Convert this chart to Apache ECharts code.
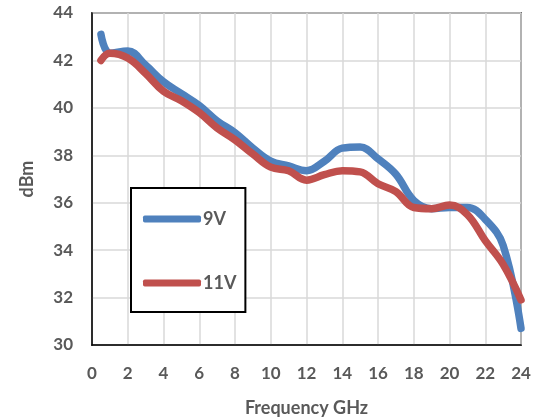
<!DOCTYPE html>
<html>
<head>
<meta charset="utf-8">
<script src="https://cdn.jsdelivr.net/npm/echarts@6/dist/echarts.min.js"></script>
<style>
  html, body { margin: 0; padding: 0; background: #fff; }
  #chart { width: 547px; height: 420px; }
</style>
</head>
<body>
<div id="chart"></div>
<script>
var freq = [0.5, 1, 2, 3, 4, 5, 6, 7, 8, 9, 10, 11, 12, 13, 14, 15, 16, 17, 18, 19, 20, 21, 22, 23, 24];
var v9 = [43.1, 42.3, 42.4, 41.8, 41.1, 40.6, 40.1, 39.45, 38.95, 38.3, 37.75, 37.55, 37.35, 37.75, 38.3, 38.35, 37.85, 37.2, 36.1, 35.75, 35.8, 35.8, 35.3, 34.2, 30.7];
var v11 = [42.0, 42.3, 42.1, 41.45, 40.7, 40.3, 39.8, 39.15, 38.65, 38.05, 37.5, 37.35, 36.95, 37.18, 37.35, 37.3, 36.8, 36.47, 35.8, 35.75, 35.9, 35.5, 34.4, 33.4, 31.9];
var names = ['9V', '11V'];
var colors = ['#4F81BD', '#C0504D'];

function pairs(xs, ys) {
  return xs.map(function (x, i) { return [x, ys[i]]; });
}

var myChart = echarts.init(document.getElementById('chart'));
var tickFont = { fontFamily: 'Lato', fontWeight: 'bold', fontSize: 17, color: '#595959' };
var titleFont = { fontFamily: 'Lato', fontWeight: 'bold', fontSize: 18, color: '#595959' };

var option = {
  animation: false,
  grid: {
    left: 92, right: 26, top: 13, bottom: 75,
    outerBoundsMode: 'none',
    show: true, borderColor: '#000', borderWidth: 1.5
  },
  legend: {
    orient: 'vertical',
    left: 131, top: 188,
    padding: [22, 9, 20, 12],
    itemGap: 46,
    itemWidth: 58, itemHeight: 7,
    icon: 'roundRect',
    borderColor: '#000', borderWidth: 2,
    backgroundColor: '#fff',
    textStyle: { fontFamily: 'Lato', fontWeight: 'bold', fontSize: 18, color: '#595959', padding: [0, 0, 0, -3] },
    data: names
  },
  xAxis: {
    type: 'value', min: 0, max: 24, interval: 2,
    name: 'Frequency GHz', nameLocation: 'middle', nameGap: 54,
    nameTextStyle: titleFont,
    axisLine: { show: true, lineStyle: { color: '#000', width: 1.5 } },
    axisTick: { show: false },
    axisLabel: Object.assign({ margin: 20 }, tickFont),
    splitLine: { show: true, lineStyle: { color: '#d9d9d9', width: 1.5 } }
  },
  yAxis: {
    type: 'value', min: 30, max: 44, interval: 2,
    name: 'dBm', nameLocation: 'middle', nameGap: 56,
    nameTextStyle: titleFont,
    axisLine: { show: true, lineStyle: { color: '#000', width: 1.5 } },
    axisTick: { show: false },
    axisLabel: Object.assign({ margin: 19 }, tickFont),
    splitLine: { show: true, lineStyle: { color: '#d9d9d9', width: 1.5 } }
  },
  series: [
    {
      name: names[0], type: 'line', smooth: 0.4, showSymbol: false,
      data: pairs(freq, v9),
      lineStyle: { color: colors[0], width: 7.5, cap: 'round', join: 'round' },
      itemStyle: { color: colors[0] }
    },
    {
      name: names[1], type: 'line', smooth: 0.4, showSymbol: false,
      data: pairs(freq, v11),
      lineStyle: { color: colors[1], width: 7.5, cap: 'round', join: 'round' },
      itemStyle: { color: colors[1] }
    }
  ]
};

myChart.setOption(option);
</script>
</body>
</html>
